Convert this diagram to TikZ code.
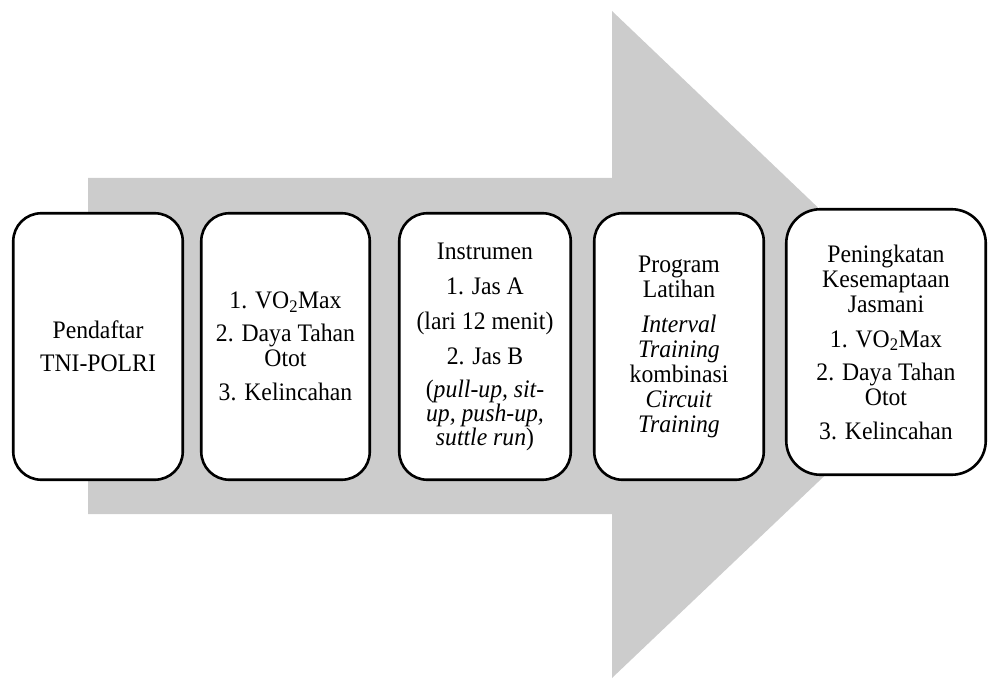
\documentclass[tikz,border=0pt]{standalone}
\usepackage{fontspec}
\setmainfont{Liberation Serif}[FakeStretch=0.94]
\begin{document}
\begin{tikzpicture}[x=1pt,y=-1pt,
  stagebox/.style={draw=black, fill=white, line width=2.6pt, rounded corners=28pt,
    rectangle, inner sep=0pt, align=center,
    font=\fontsize{25.2}{25}\selectfont},
  arrowfill/.style={fill=black!20, draw=none}]
  \useasboundingbox (0,0) rectangle (989,679);
  % background process arrow
  \fill[arrowfill] (88,178) -- (612,178) -- (612,11) -- (962,345)
    -- (612,678) -- (612,514) -- (88,514) -- cycle;
  % stages
  \node[stagebox, minimum width=169.5pt, minimum height=266.5pt] (s1) at (98,346.5)
    {Pendaftar\\[8pt]TNI-POLRI};
  \node[stagebox, minimum width=168.5pt, minimum height=266.5pt] (s2) at (285.5,346.5)
    {1. VO\textsubscript{2}Max\\[8pt]2. Daya Tahan\\Otot\\[9pt]3. Kelincahan};
  \node[stagebox, minimum width=171.5pt, minimum height=266.5pt] (s3) at (485,346.5)
    {Instrumen\\[10pt]1. Jas A\\[10pt](lari 12 menit)\\[10pt]2. Jas B\\[8pt]%
     (\textit{pull-up, sit-}\\[-1pt]\textit{up, push-up,}\\[-1pt]\textit{suttle run})};
  \node[stagebox, minimum width=169.5pt, minimum height=266.5pt] (s4) at (679,346.5)
    {Program\\Latihan\\[10pt]\textit{Interval}\\\textit{Training}\\kombinasi\\%
     \textit{Circuit}\\\textit{Training}};
  \node[stagebox, rounded corners=34pt, minimum width=199.5pt, minimum height=265.5pt] (s5) at (886,342)
    {Peningkatan\\Kesemaptaan\\Jasmani\\[10pt]1. VO\textsubscript{2}Max\\[8pt]%
     2. Daya Tahan\\Otot\\[9pt]3. Kelincahan};
\end{tikzpicture}
\end{document}
